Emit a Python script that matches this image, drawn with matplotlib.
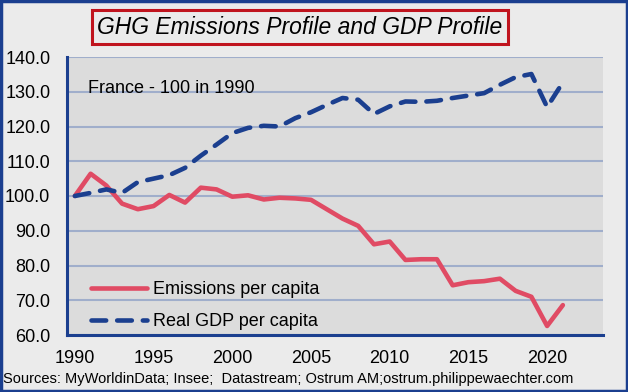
import matplotlib.pyplot as plt
from matplotlib.patches import Rectangle

plt.rcParams["font.family"] = ["Liberation Sans", "DejaVu Sans"]

years = list(range(1990, 2022))
emissions = [100.0, 106.4, 103.0, 97.8, 96.2, 97.1, 100.3, 98.1, 102.4, 101.9,
             99.8, 100.2, 99.0, 99.5, 99.3, 98.9, 96.2, 93.5, 91.4, 86.1,
             86.9, 81.6, 81.8, 81.8, 74.3, 75.2, 75.5, 76.2, 72.7, 71.0,
             62.6, 68.6]
gdp = [100.0, 100.9, 101.9, 100.9, 104.0, 105.0, 106.0, 108.1, 111.6, 114.8,
       118.1, 119.6, 120.2, 120.0, 122.4, 124.1, 126.2, 128.2, 127.7, 123.6,
       125.8, 127.2, 127.1, 127.4, 128.2, 128.9, 129.6, 132.0, 134.2, 135.1,
       125.6, 132.7]
yticks = [60, 70, 80, 90, 100, 110, 120, 130, 140]
xticks = [1990, 1995, 2000, 2005, 2010, 2015, 2020]

navy = "#1B3F8F"
red = "#E04B64"

fig = plt.figure(figsize=(6.28, 3.92), dpi=100)
fig.patch.set_facecolor("#EBEBEB")
ax = fig.add_axes([67 / 628, 1 - 335 / 392, 536 / 628, 278 / 392])
ax.set_facecolor("#DCDCDC")

ax.plot(years, emissions, color=red, lw=3.3, solid_capstyle="round",
        solid_joinstyle="round", label="Emissions per capita")
ax.plot(years, gdp, color=navy, lw=3.3, dashes=(3.2, 2.4), dash_capstyle="round",
        label="Real GDP per capita")

ax.set_xlim(1989.5, 2023.55)
ax.set_ylim(60, 140)
ax.set_yticks(yticks)
ax.set_yticklabels([f"{v:.1f}" for v in yticks])
ax.set_xticks(xticks)
ax.tick_params(length=0, labelsize=13, colors="black")
ax.tick_params(axis="y", pad=12)
ax.tick_params(axis="x", pad=11)
ax.grid(axis="y", color="#A0AECB", lw=1.5)
ax.set_axisbelow(True)
for s in ["top", "right"]:
    ax.spines[s].set_visible(False)
for s in ["left", "bottom"]:
    ax.spines[s].set_color(navy)
    ax.spines[s].set_linewidth(2.2)

ax.text(0.04, 0.885, "France - 100 in 1990", transform=ax.transAxes,
        fontsize=13, va="center")
ax.legend(loc="lower left", bbox_to_anchor=(0.015, -0.04), frameon=False,
          fontsize=13, handlelength=3.1, handletextpad=0.3, labelspacing=0.8)

fig.text(300 / 628, 1 - 27 / 392, "GHG Emissions Profile and GDP Profile",
         fontsize=16.5, style="italic", ha="center", va="center",
         bbox=dict(boxstyle="square,pad=0.25", fc="#EBEBEB", ec="#C0141E", lw=2.2))
fig.text(3 / 628, 1 - 379 / 392,
         "Sources: MyWorldinData; Insee;  Datastream; Ostrum AM;ostrum.philippewaechter.com",
         fontsize=10.5, ha="left", va="center")
fig.patches.append(Rectangle((0.002, 0.003), 0.996, 0.994, transform=fig.transFigure,
                             fill=False, ec=navy, lw=2.5))

fig.savefig("out.png", dpi=100, facecolor=fig.get_facecolor())
